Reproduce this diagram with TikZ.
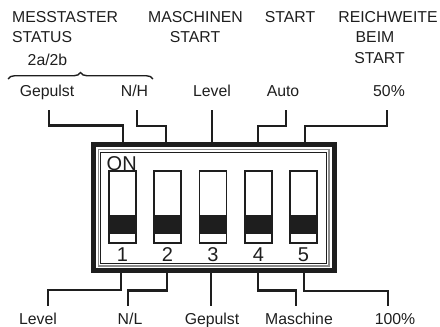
\documentclass[tikz,border=0pt]{standalone}
\usepackage{fontspec}
\setmainfont{Liberation Sans}
\usetikzlibrary{decorations.pathreplacing}
\definecolor{ink}{HTML}{1E1E1E}
\begin{document}
\begin{tikzpicture}[x=1pt,y=-1pt,
  lbl/.style={inner sep=0pt, anchor=base, font=\fontsize{15.8}{18}\selectfont, text=ink},
  big/.style={inner sep=0pt, anchor=base, font=\fontsize{20}{24}\selectfont, text=ink},
  wire/.style={draw=ink, line width=2.3pt},
  swbox/.style={draw=ink, line width=1.8pt, fill=white},
  knob/.style={fill=ink, draw=ink, line width=1.8pt},
]
\useasboundingbox (0,0) rectangle (440,327);

% header texts
\node[lbl, anchor=base west] (h1a) at (12,22) {MESSTASTER};
\node[lbl, anchor=base west] (h1b) at (12,42) {STATUS};
\node[lbl] (h1c) at (47.5,65) {2a/2b};
\node[lbl] (h2a) at (195.5,22) {MASCHINEN};
\node[lbl] (h2b) at (195,42) {START};
\node[lbl] (h3a) at (290,22) {START};
\node[lbl] (h5a) at (388,22) {REICHWEITE};
\node[lbl] (h5b) at (375,42) {BEIM};
\node[lbl] (h5c) at (379.5,63.5) {START};

% brace
\draw[ink, line width=1.4pt, decorate, decoration={brace, amplitude=6.5pt}]
  (8,79) coordinate (bl) -- (153,79) coordinate (br);

% upper labels
\node[lbl] (t1) at (47,96.5) {Gepulst};
\node[lbl] (t2) at (134.5,96.5) {N/H};
\node[lbl] (t3) at (212,96.5) {Level};
\node[lbl] (t4) at (283,96.5) {Auto};
\node[lbl] (t5) at (389,96.5) {50\%};

% lower labels
\node[lbl] (b1) at (38,324) {Level};
\node[lbl] (b2) at (130,324) {N/L};
\node[lbl] (b3) at (212,324) {Gepulst};
\node[lbl] (b4) at (299,324) {Maschine};
\node[lbl] (b5) at (395,324) {100\%};

% housing
\draw[draw=ink, line width=5pt] (93.5,144.5) rectangle (334.5,270.5);
\draw[draw=black!45, line width=1.3pt] (98.5,149.5) rectangle (329,266);
\draw[draw=ink, line width=1pt] (100.5,152) rectangle (326.5,263.5);

\node[big, anchor=base west] (on) at (106.5,170) {ON};

% switches
\foreach \i/\x in {1/122.5,2/167.5,3/213,4/258.5,5/303.5}{
  \draw[swbox] (\x-13.5,171) rectangle (\x+13.5,243);
  \draw[knob] (\x-13.5,216) rectangle (\x+13.5,233);
  \node[big] (n\i) at (\x,261) {\i};
}

% upper connectors
\coordinate (u1) at (49,110);  \coordinate (u1b) at (123,142);
\coordinate (u2) at (137,110); \coordinate (u2b) at (166,142);
\coordinate (u3) at (212,110); \coordinate (u3b) at (212,142);
\coordinate (u4) at (286,110); \coordinate (u4b) at (258,142);
\coordinate (u5) at (387,110); \coordinate (u5b) at (305,142);
\draw[wire] (u1) -- (49,125.5) -- (123,125.5) -- (u1b);
\draw[wire] (u2) -- (137,126) -- (166,126) -- (u2b);
\draw[wire] (u3) -- (u3b);
\draw[wire] (u4) -- (286,126) -- (258,126) -- (u4b);
\draw[wire] (u5) -- (387,126) -- (305,126) -- (u5b);

% lower connectors
\coordinate (d1) at (121,273); \coordinate (d1b) at (48,306);
\coordinate (d2) at (167,273); \coordinate (d2b) at (128,306);
\coordinate (d3) at (211,273); \coordinate (d3b) at (211,306);
\coordinate (d4) at (258,273); \coordinate (d4b) at (296,306);
\coordinate (d5) at (304,273); \coordinate (d5b) at (388,306);
\draw[wire] (d1) -- (121,290) -- (48,290) -- (d1b);
\draw[wire] (d2) -- (167,290.5) -- (128,290.5) -- (d2b);
\draw[wire] (d3) -- (d3b);
\draw[wire] (d4) -- (258,290.5) -- (296,290.5) -- (d4b);
\draw[wire] (d5) -- (304,291) -- (388,291) -- (d5b);
\end{tikzpicture}
\end{document}
